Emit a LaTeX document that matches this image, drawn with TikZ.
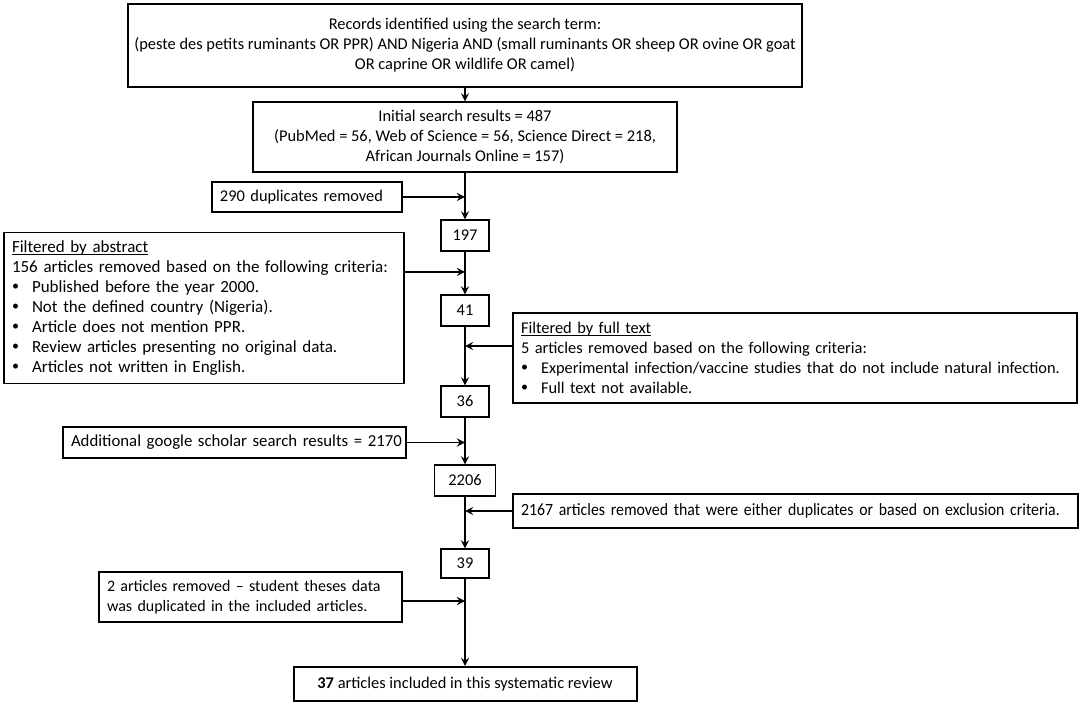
\documentclass[tikz,border=0pt]{standalone}
\usepackage{fontspec}
\setmainfont{Carlito}
\newfontfamily\narrowfont[FakeStretch=0.92]{Carlito}
\usetikzlibrary{arrows}
\tikzstyle{arrow} = [thick,-stealth]
\tikzstyle{box} = [draw, semithick, inner sep=4pt, font=\fontsize{8.2}{10}\selectfont]
\tikzstyle{numbox} = [box, minimum width=24pt, minimum height=15.5pt, align=center]
\newcommand{\bul}{\makebox[10pt][l]{\raisebox{0.3ex}{\scriptsize\textbullet}}}
\newcommand{\uln}[1]{\setbox0\hbox{#1}\rlap{\rule[-1.1pt]{\wd0}{0.4pt}}\box0}

\begin{document}
\begin{tikzpicture}[x=1pt,y=-1pt]
            \useasboundingbox (0,0) rectangle (542,353);
            % boxes on the main line
            \node[box, line width=1pt, inner xsep=1pt, minimum width=337pt, minimum height=41.5pt, align=center] (search) at (232.5,22.75) {Records identified using the search term:\\(peste des petits ruminants OR PPR) AND Nigeria AND (small ruminants OR sheep OR ovine OR goat\\OR caprine OR wildlife OR camel)};
            \node[box, minimum width=212pt, minimum height=35pt, align=center] (init) at (232.5,68.5) {Initial search results = 487\\(PubMed = 56, Web of Science = 56, Science Direct = 218,\\African Journals Online = 157)};
            \node[numbox] (n197) at (232.5,117.75) {197};
            \node[numbox] (n41) at (232.5,155.25) {41};
            \node[numbox] (n36) at (232.5,200.75) {36};
            \node[numbox, minimum width=30.5pt] (n2206) at (232.5,240.25) {2206};
            \node[numbox, minimum height=14.5pt] (n39) at (232.5,281.75) {39};
            \node[box, line width=1pt, minimum width=171.5pt, minimum height=17pt, align=center] (final) at (232.5,342) {\textbf{37} articles included in this systematic review};
            % boxes at the sides
            \node[box, text width=87pt, minimum height=15pt, align=left] (dup) at (153.5,98.5) {290 duplicates removed};
            \node[box, text width=192pt, minimum height=75pt, align=left, font=\fontsize{8.5}{10}\selectfont] (abs) at (102,154) {\uln{Filtered by abstract}\\156 articles removed based on the following criteria:\\\bul Published before the year 2000.\\\bul Not the defined country (Nigeria).\\\bul Article does not mention PPR.\\\bul Review articles presenting no original data.\\\bul Articles not written in English.};
            \node[box, text width=274pt, minimum height=45pt, align=left] (full) at (397.5,179) {\uln{Filtered by full text}\\5 articles removed based on the following criteria:\\\bul Experimental infection/vaccine studies that do not include natural infection.\\\bul Full text not available.};
            \node[box, text width=163.5pt, minimum height=15.5pt, align=left, font=\fontsize{8.4}{10}\selectfont] (google) at (117.25,221.25) {\mbox{Additional google scholar search results = 2170}};
            \node[box, text width=274.5pt, minimum height=17pt, align=left, font=\narrowfont\fontsize{8.6}{10}\selectfont] (rem) at (397.75,255.5) {\mbox{2167 articles removed that were either duplicates or based on exclusion criteria.}};
            \node[box, text width=143.5pt, minimum height=25pt, align=left, font=\fontsize{8}{10}\selectfont] (twoart) at (125.25,298.5) {2 articles removed -- student theses data\\was duplicated in the included articles.};
            % junctions on the main line
            \coordinate (j1) at (232.5,98.5);
            \coordinate (j2) at (232.5,136);
            \coordinate (j3) at (232.5,173);
            \coordinate (j4) at (232.5,221.25);
            \coordinate (j5) at (232.5,255.5);
            \coordinate (j6) at (232.5,300.5);
            % main line
            \draw[arrow] (search) -- (init);
            \draw[arrow] (init) -- (n197);
            \draw[arrow] (n197) -- (n41);
            \draw[arrow] (n41) -- (n36);
            \draw[arrow] (n36) -- (n2206);
            \draw[arrow] (n2206) -- (n39);
            \draw[arrow] (n39) -- (final);
            % side arrows
            \draw[arrow] (dup) -- (j1);
            \draw[arrow] (abs.east |- j2) -- (j2);
            \draw[arrow] (full.west |- j3) -- (j3);
            \draw[arrow] (google.east) -- (j4);
            \draw[arrow] (rem) -- (j5);
            \draw[arrow] (twoart.east |- j6) -- (j6);
\end{tikzpicture}
\end{document}
